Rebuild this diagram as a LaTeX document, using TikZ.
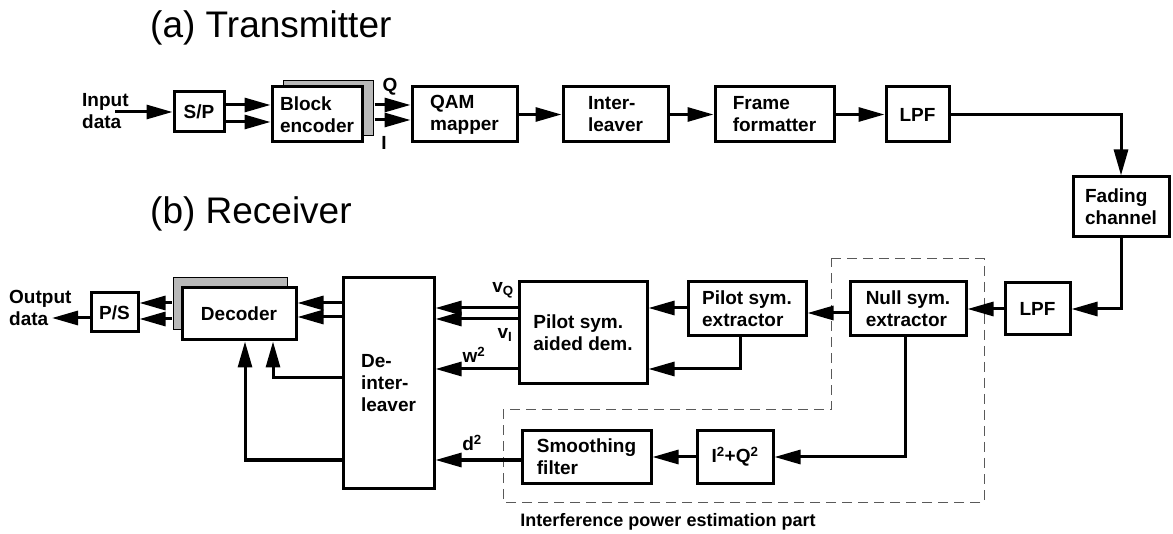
\documentclass[tikz,border=0pt]{standalone}
\usepackage{fontspec}
\setmainfont{Liberation Sans}
\usetikzlibrary{positioning, arrows.meta}
\newcommand{\blkfont}{\bfseries\fontsize{19}{22}\selectfont}
\newcommand{\ttlfont}{\fontsize{37}{42}\selectfont}
\tikzset{
  blk/.style={draw, line width=3pt, fill=white, inner sep=0pt, align=left, font=\blkfont},
  lbl/.style={inner sep=0pt, align=left, font=\blkfont},
  arr/.style={line width=3pt, -{Triangle[length=26pt, width=14pt]}},
  shadowbox/.style={fill=gray!55, draw=black, line width=1pt},
  estbox/.style={draw=gray!70!black, line width=1pt, dash pattern=on 10pt off 6pt},
}

\begin{document}
\begin{tikzpicture}[x=1pt, y=-1pt]
  \useasboundingbox (0,0) rectangle (1173,534);

  % Titles
  \node[anchor=base west, inner sep=0pt, font=\ttlfont] (ttla) at (150,38) {(a) Transmitter};
  \node[anchor=base west, inner sep=0pt, font=\ttlfont] (ttlb) at (150,224) {(b) Receiver};

  % Interference power estimation part (dashed)
  \draw[estbox] (831,259) -- (984,259) -- (984,502) -- (503,502) -- (503,410) -- (831,410) -- cycle;
  \node[lbl, font=\bfseries\fontsize{18}{20}\selectfont] (estlbl) at (668,522) {Interference power estimation part};

  % Transmitter
  \node[lbl, anchor=west] (inp) at (82,111) {Input\\data};
  \coordinate (inpt) at (115,112);
  \node[blk, minimum width=50pt, minimum height=40pt] (sp) at (199,112) {S/P};
  \draw[shadowbox] (283,81) rectangle (373,136);
  \node[blk, minimum width=90pt, minimum height=55pt] (enc) at (317,114.5) {Block\\encoder};
  \node[blk, minimum width=105pt, minimum height=55pt] (qam) at (464.5,114.5) {QAM\\mapper};
  \node[blk, minimum width=105pt, minimum height=55pt] (il) at (615.5,114.5) {Inter-\\leaver};
  \node[blk, minimum width=119pt, minimum height=55pt] (ff) at (774.5,114.5) {Frame\\formatter};
  \node[blk, minimum width=63pt, minimum height=55pt] (lpft) at (917.5,114.5) {LPF};
  \node[lbl] (qlbl) at (390,87) {Q};
  \node[lbl] (ilbl) at (384,143) {I};

  % Channel
  \node[blk, minimum width=96pt, minimum height=60pt] (fad) at (1121,207) {Fading\\channel};

  % Receiver
  \node[blk, minimum width=65pt, minimum height=52pt] (lpfr) at (1037.5,309) {LPF};
  \node[blk, minimum width=116pt, minimum height=54pt] (nul) at (908,309) {Null sym.\\extractor};
  \node[blk, minimum width=118pt, minimum height=54pt] (pse) at (747,309) {Pilot sym.\\extractor};
  \node[blk, minimum width=128pt, minimum height=102pt] (psa) at (583,333) {Pilot sym.\\aided dem.};
  \node[blk, minimum width=91pt, minimum height=210pt] (deil) at (388.5,383) {De-\\inter-\\leaver};
  \draw[shadowbox] (173,278) rectangle (287,330);
  \node[blk, minimum width=114pt, minimum height=52pt] (dec) at (239,314) {Decoder};
  \node[blk, minimum width=47pt, minimum height=39pt] (ps) at (114.5,312.5) {P/S};
  \node[lbl, anchor=west] (outd) at (9,308) {Output\\data};
  \coordinate (outp) at (52,318);
  \node[blk, minimum width=129pt, minimum height=52pt] (smf) at (586.5,457) {Smoothing\\filter};
  \node[blk, minimum width=76pt, minimum height=52pt] (iq) at (735,457) {I\textsuperscript{2}+Q\textsuperscript{2}};
  \node[lbl] (vq) at (503,290) {v\textsubscript{Q}};
  \node[lbl] (vi) at (505,335) {v\textsubscript{I}};
  \node[lbl] (wsq) at (474,355) {w\textsuperscript{2}};
  \node[lbl] (dsq) at (472,443) {d\textsuperscript{2}};

  % Transmitter arrows
  \draw[arr] (inpt) -- (sp.west);
  \draw[arr] ([yshift=7pt]sp.east) -- ([yshift=9.5pt]enc.west);
  \draw[arr] ([yshift=-10pt]sp.east) -- ([yshift=-7.5pt]enc.west);
  \draw[arr] ([xshift=11pt,yshift=9.5pt]enc.east) -- ([yshift=9.5pt]qam.west);
  \draw[arr] ([xshift=11pt,yshift=-5.5pt]enc.east) -- ([yshift=-5.5pt]qam.west);
  \draw[arr] (qam) -- (il);
  \draw[arr] (il) -- (ff);
  \draw[arr] (ff) -- (lpft);
  \draw[arr] (lpft.east) -| (fad.north);
  \draw[arr] (fad.south) |- (lpfr.east);

  % Receiver arrows
  \draw[arr] (lpfr) -- (nul);
  \draw[arr] ([yshift=-4pt]nul.west) -- ([yshift=-4pt]pse.east);
  \draw[arr] ([yshift=1pt]pse.west) -- ([yshift=25pt]psa.east);
  \draw[arr] ([xshift=-7pt]pse.south) |- ([yshift=-36pt]psa.east);
  \draw[arr] ([yshift=25pt]psa.west) -- ([yshift=75pt]deil.east);
  \draw[arr] ([yshift=14pt]psa.west) -- ([yshift=64pt]deil.east);
  \draw[arr] ([yshift=-36pt]psa.west) -- ([yshift=14pt]deil.east);
  \draw[arr] ([xshift=-3pt]nul.south) |- (iq.east);
  \draw[arr] (iq) -- (smf);
  \draw[arr] ([yshift=-3pt]smf.west) -- ([yshift=-77pt]deil.east);
  \draw[arr] ([yshift=80pt]deil.west) -- ([yshift=11pt]dec.east);
  \draw[arr] ([yshift=66pt]deil.west) -- ([yshift=-3pt]dec.east);
  \draw[arr] ([yshift=5pt]deil.west) -| ([xshift=34pt]dec.south);
  \draw[arr] ([yshift=-77pt]deil.west) -| ([xshift=6pt]dec.south);
  \draw[arr] ([xshift=-9pt,yshift=11pt]dec.west) -- ([yshift=9.5pt]ps.east);
  \draw[arr] ([xshift=-9pt,yshift=-5pt]dec.west) -- ([yshift=-6.5pt]ps.east);
  \draw[arr] ([yshift=-5.5pt]ps.west) -- (outp);
\end{tikzpicture}
\end{document}
